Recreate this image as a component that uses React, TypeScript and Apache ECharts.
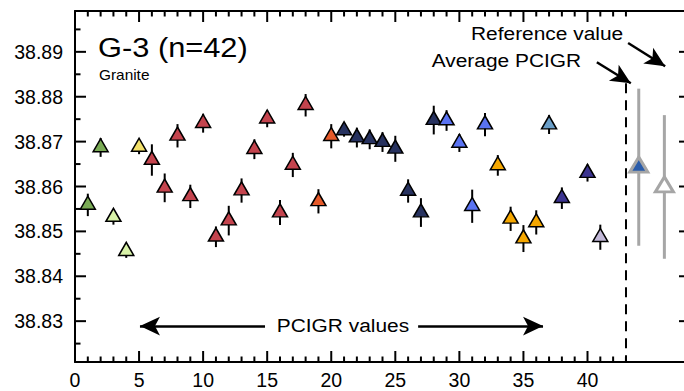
import React, { useEffect, useRef } from "react";
import * as echarts from "echarts";

// ---- data ----
const aliquot = [1, 2, 3, 4, 5, 6, 7, 8, 9, 10, 11, 12, 13, 14, 15, 16, 17, 18, 19, 20, 21, 22, 23, 24, 25, 26, 27, 28, 29, 30, 31, 32, 33, 34, 35, 36, 37, 38, 40, 41];
const pb208pb204 = [38.8559, 38.8687, 38.8532, 38.8456, 38.8688, 38.8659, 38.8597, 38.8713, 38.8578, 38.8741, 38.8488, 38.8524, 38.8591, 38.8683, 38.8751, 38.8542, 38.8648, 38.8781, 38.8567, 38.8712, 38.8725, 38.8709, 38.8705, 38.8699, 38.8684, 38.859, 38.8542, 38.8748, 38.8747, 38.8697, 38.8556, 38.8738, 38.8647, 38.8528, 38.8484, 38.852, 38.8738, 38.8574, 38.863, 38.8487];
const errors2sd = [0.0025, 0.0021, 0.0017, 0.0015, 0.0016, 0.0035, 0.0032, 0.0026, 0.0026, 0.0021, 0.0023, 0.0033, 0.0027, 0.0022, 0.0019, 0.0028, 0.0027, 0.0025, 0.0027, 0.0027, 0.0014, 0.0022, 0.0022, 0.0022, 0.0029, 0.0026, 0.0032, 0.0032, 0.0023, 0.002, 0.0037, 0.0026, 0.0023, 0.0027, 0.003, 0.0027, 0.0021, 0.0024, 0.0019, 0.0028];
const session = [0, 0, 1, 1, 2, 3, 3, 3, 3, 3, 3, 3, 3, 3, 3, 3, 3, 3, 4, 4, 5, 5, 5, 5, 5, 5, 5, 5, 6, 6, 6, 6, 7, 7, 7, 7, 8, 9, 9, 10];

const averageX = 44;
const averageValue = 38.8643;
const averageErr = 0.0175;
const referenceX = 46;
const referenceValue = 38.8599;
const referenceErr = 0.016;

const xTickLabels = [0, 5, 10, 15, 20, 25, 30, 35, 40];
const xMinorTicks = [1, 2, 3, 4, 6, 7, 8, 9, 11, 12, 13, 14, 16, 17, 18, 19, 21, 22, 23, 24, 26, 27, 28, 29, 31, 32, 33, 34, 36, 37, 38, 39, 41, 42, 43];
const yTickLabels = [38.83, 38.84, 38.85, 38.86, 38.87, 38.88, 38.89];
const yMinorTicks = [38.825, 38.835, 38.845, 38.855, 38.865, 38.875, 38.885, 38.895];

// ---- styles ----
const sessionColors = ["#7aab55", "#d8f2a8", "#f2e06a", "#c4444e", "#e65a2a", "#27325f", "#5a73f2", "#f5a700", "#6a9ec8", "#3c3490", "#c2b8d8"];
const FONT = '"Liberation Sans", Arial, Helvetica, sans-serif';
const X_MIN = 0, X_MAX = 48;
const Y_MIN = 38.8209, Y_MAX = 38.8991;
const GRID = { left: 75, top: 11, width: 615, height: 351 };
const MAJOR_PX = 11, MINOR_PX = 5.5;

export default function App() {
  const ref = useRef<HTMLDivElement>(null);
  useEffect(() => {
    if (!ref.current) return;
    const chart = echarts.init(ref.current, undefined, { renderer: "svg" });
    const black = { color: "#000", width: 2 };
    const mkX = (position: string, showLabel: boolean) => ({
      type: "value", min: X_MIN, max: X_MAX, position, gridIndex: 0,
      splitLine: { show: false },
      axisLine: { show: true, onZero: false, lineStyle: { ...black } },
      axisTick: { show: false },
      axisLabel: showLabel ? { show: true, customValues: xTickLabels, fontSize: 19.5, fontFamily: FONT, color: "#000", margin: 8 } : { show: false },
    });
    const mkY = (position: string, showLabel: boolean) => ({
      type: "value", min: Y_MIN, max: Y_MAX, position, gridIndex: 0, scale: true,
      splitLine: { show: false },
      axisLine: { show: true, onZero: false, lineStyle: { ...black } },
      axisTick: { show: false },
      axisLabel: showLabel ? { show: true, customValues: yTickLabels, fontSize: 19.5, fontFamily: FONT, color: "#000", margin: 12, formatter: (v: number) => v.toFixed(2) } : { show: false },
    });
    const errBar = (color: string, width: number) => (params: any, api: any) => {
      const x = api.value(0), v = api.value(1), e = api.value(2);
      const a = api.coord([x, v + e]);
      const b = api.coord([x, v - e]);
      return { type: "line", shape: { x1: a[0], y1: a[1], x2: b[0], y2: b[1] }, style: { stroke: color, lineWidth: width } };
    };

    const pts = aliquot.map((x, i) => [x, pb208pb204[i], errors2sd[i]]);
    const refPts = [[averageX, averageValue, averageErr], [referenceX, referenceValue, referenceErr]];
    const text = (t: string, x: number, y: number, size: number) => ({
      type: "text", x, y, scaleX: 1.1, z: 10,
      style: { text: t, fontSize: size, fontFamily: FONT, fill: "#000", align: "left", verticalAlign: "middle" },
    });
    const texts = [
      text("G-3 (n=42)", 98, 47, 28),
      text("Granite", 99, 75.5, 14),
      text("Reference value", 471, 33.3, 19),
      text("Average PCIGR", 431.7, 60, 19),
      text("PCIGR values", 276.7, 325.7, 19),
    ];

    // inward ticks on all four sides as thin filled bars, on the same linear map as the grid's axes
    const xPix = (v: number) => GRID.left + ((v - X_MIN) / (X_MAX - X_MIN)) * GRID.width;
    const yPix = (v: number) => GRID.top + ((Y_MAX - v) / (Y_MAX - Y_MIN)) * GRID.height;
    const bottom = GRID.top + GRID.height, top = GRID.top, left = GRID.left, right = GRID.left + GRID.width;
    const ticks: any[] = [];
    const bar = (x: number, y: number, w: number, h: number) =>
      ticks.push({ type: "rect", z: 9, shape: { x, y, width: w, height: h }, style: { fill: "#000" } });
    const xTick = (v: number, len: number) => {
      const x = xPix(v);
      bar(x - 1, bottom - len, 2, len);
      bar(x - 1, top, 2, len);
    };
    const yTick = (v: number, len: number) => {
      const y = yPix(v);
      bar(left, y - 1, len, 2);
      bar(right - len, y - 1, len, 2);
    };
    xTickLabels.forEach((v) => xTick(v, MAJOR_PX));
    xMinorTicks.forEach((v) => xTick(v, MINOR_PX));
    yTickLabels.forEach((v) => yTick(v, MAJOR_PX));
    yMinorTicks.forEach((v) => yTick(v, MINOR_PX));

    chart.setOption({
      animation: false,
      grid: { ...GRID, containLabel: false, outerBoundsMode: "none" },
      xAxis: [mkX("bottom", true), mkX("top", false)],
      yAxis: [mkY("left", true), mkY("right", false)],
      series: [
        {
          type: "custom", name: "err", xAxisIndex: 0, yAxisIndex: 0, z: 2,
          data: pts, encode: { x: 0, y: 1 }, renderItem: errBar("#000", 2),
        },
        {
          type: "scatter", name: "PCIGR values", xAxisIndex: 0, yAxisIndex: 0, z: 3,
          symbol: "triangle", symbolSize: [15, 13], symbolOffset: [0, -2.2],
          itemStyle: { borderColor: "#000", borderWidth: 1.5, opacity: 1 },
          data: pts.map((p, i) => ({ value: [p[0], p[1]], itemStyle: { color: sessionColors[session[i]] } })),
          markLine: {
            silent: true, symbol: ["none", "none"], label: { show: false },
            lineStyle: { color: "#000", width: 2, type: [10, 7] },
            data: [[{ coord: [43, 38.883] }, { coord: [43, Y_MIN] }]],
          },
        },
        {
          type: "custom", name: "refErr", xAxisIndex: 0, yAxisIndex: 0, z: 2,
          data: refPts, encode: { x: 0, y: 1 }, renderItem: errBar("#a6a6a6", 3),
        },
        {
          type: "scatter", name: "reference", xAxisIndex: 0, yAxisIndex: 0, z: 3,
          symbol: "triangle", symbolSize: [18, 15], symbolOffset: [0, -2.5],
          itemStyle: { borderColor: "#a6a6a6", borderWidth: 3, opacity: 1 },
          data: [
            { value: [averageX, averageValue], itemStyle: { color: "#2a5caa" } },
            { value: [referenceX, referenceValue], itemStyle: { color: "#ffffff" } },
          ],
          markLine: {
            silent: true, symbol: ["none", "arrow"], symbolSize: [14, 20], label: { show: false },
            lineStyle: { color: "#000", width: 2.5, type: "solid" },
            data: [
              [{ coord: [14.83, 38.8289] }, { coord: [5.07, 38.8289] }],
              [{ coord: [26.78, 38.8289] }, { coord: [36.53, 38.8289] }],
              [{ coord: [43.17, 38.89197] }, { coord: [46.06, 38.8868] }],
              [{ coord: [40.73, 38.88767] }, { coord: [43.38, 38.883] }],
            ],
          },
        },
      ],
      graphic: [...texts, ...ticks],
    });

    return () => chart.dispose();
  }, []);
  return <div ref={ref} style={{ position: "absolute", left: 0, top: 0, width: 684, height: 391 }} />;
}
